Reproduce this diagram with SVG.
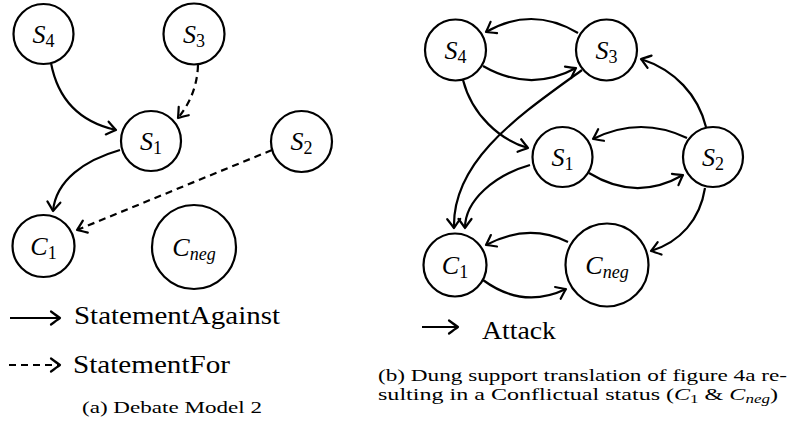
<svg xmlns="http://www.w3.org/2000/svg" width="790" height="423" viewBox="0 0 790 423">
<style>
.node{fill:#fff;stroke:#000;stroke-width:2.2}
.lbl{font-size:26px;text-anchor:middle;fill:#000}
.it{font-style:italic}
.sub{font-size:18px}
.subi{font-size:18px;font-style:italic}
.e{fill:none;stroke:#000;stroke-width:2.2;marker-end:url(#arr)}
.d{stroke-dasharray:7 5}
.txt{fill:#000}
</style>
<defs>
<marker id="arr" markerUnits="userSpaceOnUse" orient="auto" markerWidth="24" markerHeight="24" refX="0" refY="0" viewBox="-12 -12 24 24" overflow="visible">
<path d="M-9,-6.5 Q-3,-2 0,0 Q-3,2 -9,6.5" fill="none" stroke="#000" stroke-width="2.2" stroke-linecap="round" stroke-linejoin="round"/>
</marker>
</defs>
<g id="edges">
<path class="e" d="M51 63 C58 100,80 122,116 130"/>
<path class="e d" d="M198 65 Q197 95,178 118"/>
<path class="e" d="M120 150 C85 160,56 180,53 211"/>
<path class="e d" d="M272 150 L77 230"/>
<path class="e" d="M578 33 Q532 5.5,486 32"/>
<path class="e" d="M483 66 Q530 93,576 68"/>
<path class="e" d="M463 80 C472 115,500 140,528 148"/>
<path class="e" d="M582 70 C520 115,452 160,454 228"/>
<path class="e" d="M530 165 C495 175,465 200,465 228"/>
<path class="e" d="M687 138 Q640 115.5,593 139"/>
<path class="e" d="M589 173 Q636 202,683 175"/>
<path class="e" d="M706 127 C698 95,675 70,641 59"/>
<path class="e" d="M705 188 C700 220,680 242,651 251"/>
<path class="e" d="M568 242 Q528 222.5,486 245"/>
<path class="e" d="M483 280 Q523 309.5,566 289"/>
<path class="e" d="M10 318 L60 318"/>
<path class="e d" d="M9 365 L60 365"/>
<path class="e" d="M422 327 L458 327"/>
</g>
<g font-family="'Liberation Serif', serif">
<g id="a_S4"><circle class="node" cx="43.5" cy="34" r="30"/><text class="lbl" x="43.5" y="43"><tspan class="it">S</tspan><tspan class="sub" dy="4">4</tspan></text></g>
<g id="a_S3"><circle class="node" cx="194" cy="34" r="30.5"/><text class="lbl" x="194" y="43"><tspan class="it">S</tspan><tspan class="sub" dy="4">3</tspan></text></g>
<g id="a_S1"><circle class="node" cx="151" cy="141" r="30"/><text class="lbl" x="151" y="150"><tspan class="it">S</tspan><tspan class="sub" dy="4">1</tspan></text></g>
<g id="a_S2"><circle class="node" cx="301.5" cy="141.5" r="30.5"/><text class="lbl" x="301.5" y="150"><tspan class="it">S</tspan><tspan class="sub" dy="4">2</tspan></text></g>
<g id="a_C1"><circle class="node" cx="43.5" cy="246" r="31"/><text class="lbl" x="43.5" y="255"><tspan class="it">C</tspan><tspan class="sub" dy="4">1</tspan></text></g>
<g id="a_Cneg"><circle class="node" cx="194" cy="247" r="42"/><text class="lbl" x="194" y="256"><tspan class="it">C</tspan><tspan class="subi" dy="4">neg</tspan></text></g>
<g id="b_S4"><circle class="node" cx="455.5" cy="50" r="30.5"/><text class="lbl" x="455.5" y="59"><tspan class="it">S</tspan><tspan class="sub" dy="4">4</tspan></text></g>
<g id="b_S3"><circle class="node" cx="606.5" cy="50" r="30.5"/><text class="lbl" x="606.5" y="59"><tspan class="it">S</tspan><tspan class="sub" dy="4">3</tspan></text></g>
<g id="b_S1"><circle class="node" cx="562.5" cy="157" r="30"/><text class="lbl" x="562.5" y="166"><tspan class="it">S</tspan><tspan class="sub" dy="4">1</tspan></text></g>
<g id="b_S2"><circle class="node" cx="713" cy="157" r="30"/><text class="lbl" x="713" y="166"><tspan class="it">S</tspan><tspan class="sub" dy="4">2</tspan></text></g>
<g id="b_C1"><circle class="node" cx="455" cy="265" r="31.5"/><text class="lbl" x="455" y="274"><tspan class="it">C</tspan><tspan class="sub" dy="4">1</tspan></text></g>
<g id="b_Cneg"><circle class="node" cx="607" cy="265" r="41.5"/><text class="lbl" x="607" y="274"><tspan class="it">C</tspan><tspan class="subi" dy="4">neg</tspan></text></g>
<g id="legend">
<text class="txt" x="74" y="324" font-size="26" textLength="206" lengthAdjust="spacingAndGlyphs">StatementAgainst</text>
<text class="txt" x="73" y="373" font-size="26" textLength="157" lengthAdjust="spacingAndGlyphs">StatementFor</text>
<text class="txt" x="482" y="339" font-size="26" textLength="74" lengthAdjust="spacingAndGlyphs">Attack</text>
</g>
<g id="captions">
<text class="txt" x="82" y="413" font-size="17" textLength="180" lengthAdjust="spacingAndGlyphs">(a) Debate Model 2</text>
<text class="txt" x="378" y="381" font-size="17" textLength="409" lengthAdjust="spacingAndGlyphs">(b) Dung support translation of figure 4a re-</text>
<text class="txt" x="378" y="400" font-size="17" textLength="400" lengthAdjust="spacingAndGlyphs">sulting in a Conflictual status (<tspan font-style="italic">C</tspan><tspan font-size="12" dy="3">1</tspan><tspan dy="-3"> &amp; </tspan><tspan font-style="italic">C</tspan><tspan font-size="12" font-style="italic" dy="3">neg</tspan><tspan dy="-3">)</tspan></text>
</g>
</g>
</svg>
